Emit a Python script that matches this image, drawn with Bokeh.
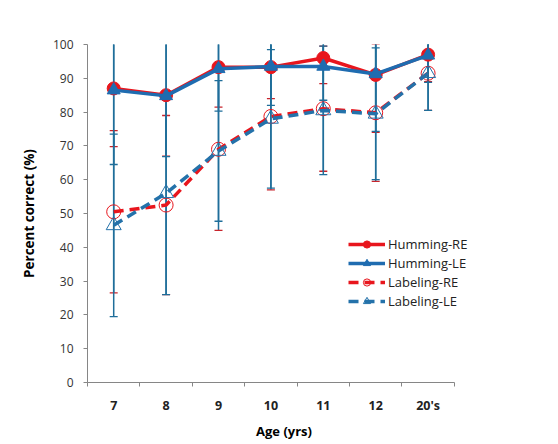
from bokeh.plotting import figure
from bokeh.models import (Range1d, FixedTicker, Legend, LegendItem)
from bokeh.embed import file_html
from bokeh.resources import INLINE

# ---- data ----
ages = ["7", "8", "9", "10", "11", "12", "20's"]
hum_re = [87, 85, 93.3, 93.3, 96, 91, 97]
hum_le = [86.5, 84.8, 92.8, 93.5, 93.5, 91.3, 96.8]
lab_re = [50.5, 52.5, 69, 78.7, 81, 79.8, 91.5]
lab_le = [46.5, 56, 68.5, 78, 80.5, 79.5, 91.5]
hum_re_sd = [17.2, 18, 11.8, 9.3, 7.6, 17, 8]
hum_le_sd = [22, 18, 12.5, 11.5, 10, 17, 8]
lab_re_sd = [24, 26.5, 24, 21.7, 18.5, 20.3, 11]
lab_le_sd = [27, 30, 20.8, 20.5, 19, 19.5, 11]
y_ticks = [0, 10, 20, 30, 40, 50, 60, 70, 80, 90, 100]

RED = "#E8161D"
BLUE = "#1F6CB0"
BLUE2 = "#2472AA"
ERR_BLUE = "#1F6E9A"
ERR_RED = "#C8242C"
FONT = "Open Sans"

xs = list(range(len(ages)))
n = len(ages)

p = figure(width=550, height=442, output_backend="svg", toolbar_location=None,
           x_range=Range1d(-0.5, n), y_range=Range1d(0, 100),
           min_border_left=87, min_border_top=44, min_border_right=70, min_border_bottom=60)
p.outline_line_color = None
p.xgrid.visible = False
p.ygrid.visible = False
p.background_fill_color = "white"
p.border_fill_color = "white"

# axes
p.yaxis.ticker = FixedTicker(ticks=y_ticks)
p.yaxis.axis_line_color = "#868686"
p.yaxis.major_tick_line_color = "#868686"
p.yaxis.major_tick_out = 4
p.yaxis.major_tick_in = 0
p.yaxis.minor_tick_line_color = None
p.yaxis.major_label_standoff = 10
p.yaxis.major_label_text_font = FONT
p.yaxis.major_label_text_font_size = "12px"
p.yaxis.major_label_text_color = "#333333"
p.yaxis.axis_label = "Percent correct (%)"
p.yaxis.axis_label_text_font = FONT
p.yaxis.axis_label_text_font_size = "13.5px"
p.yaxis.axis_label_text_font_style = "bold"
p.yaxis.axis_label_text_color = "#000000"
p.yaxis.axis_label_standoff = 12

p.xaxis.bounds = (-0.5, n - 0.5)
p.xaxis.ticker = FixedTicker(ticks=xs, minor_ticks=[i - 0.5 for i in range(n + 1)])
p.xaxis.major_label_overrides = {i: a for i, a in enumerate(ages)}
p.xaxis.axis_line_color = "#868686"
p.xaxis.major_tick_line_color = None
p.xaxis.major_tick_out = 0
p.xaxis.major_tick_in = 0
p.xaxis.minor_tick_line_color = "#868686"
p.xaxis.minor_tick_out = 4
p.xaxis.minor_tick_in = 0
p.xaxis.major_label_standoff = 10
p.xaxis.major_label_text_font = FONT
p.xaxis.major_label_text_font_size = "12.5px"
p.xaxis.major_label_text_font_style = "bold"
p.xaxis.major_label_text_color = "#222222"
p.xaxis.axis_label = "Age (yrs)"
p.xaxis.axis_label_text_font = FONT
p.xaxis.axis_label_text_font_size = "13px"
p.xaxis.axis_label_text_font_style = "bold"
p.xaxis.axis_label_text_color = "#000000"
p.xaxis.axis_label_standoff = 5

# error bars (vertical stems in teal, caps coloured per eye)
def errbars(vals, sds, cap_color):
    lo = [v - s for v, s in zip(vals, sds)]
    hi = [v + s for v, s in zip(vals, sds)]
    p.segment(x0=xs, y0=lo, x1=xs, y1=hi, line_color=ERR_BLUE, line_width=1.5)
    p.scatter(x=xs + xs, y=lo + hi, marker="dash", size=8, line_color=cap_color, line_width=1.3)

errbars(hum_re, hum_re_sd, ERR_RED)
errbars(lab_re, lab_re_sd, ERR_RED)
errbars(hum_le, hum_le_sd, ERR_BLUE)
errbars(lab_le, lab_le_sd, ERR_BLUE)

# series
l1 = p.line(xs, hum_re, line_color=RED, line_width=3.5)
m1 = p.scatter(xs, hum_re, marker="circle", size=13, fill_color=RED, line_color=RED)
l2 = p.line(xs, hum_le, line_color=BLUE, line_width=3.5)
m2 = p.scatter(xs, hum_le, marker="triangle", size=13, fill_color=BLUE, line_color=BLUE)
l3 = p.line(xs, lab_re, line_color=RED, line_width=3.5, line_dash="10 6")
m3 = p.scatter(xs, lab_re, marker="circle", size=14, fill_color=None, line_color=RED, line_width=1)
l4 = p.line(xs, lab_le, line_color=BLUE2, line_width=3.5, line_dash="10 6")
m4 = p.scatter(xs, lab_le, marker="triangle", size=15, fill_color=None, line_color=BLUE2, line_width=1)

legend = Legend(items=[
    LegendItem(label="Humming-RE", renderers=[l1, m1]),
    LegendItem(label="Humming-LE", renderers=[l2, m2]),
    LegendItem(label="Labeling-RE", renderers=[l3, m3]),
    LegendItem(label="Labeling-LE", renderers=[l4, m4]),
], location=(261, 72))
legend.border_line_color = None
legend.background_fill_alpha = 0
legend.padding = 0
legend.margin = 0
legend.spacing = 1
legend.glyph_width = 37
legend.glyph_height = 18
legend.label_standoff = 3
legend.label_text_font = FONT
legend.label_text_font_size = "13px"
legend.label_text_color = "#222222"
legend.label_height = 18
p.add_layout(legend, "center")

open("out.html", "w").write(file_html(p, INLINE))
